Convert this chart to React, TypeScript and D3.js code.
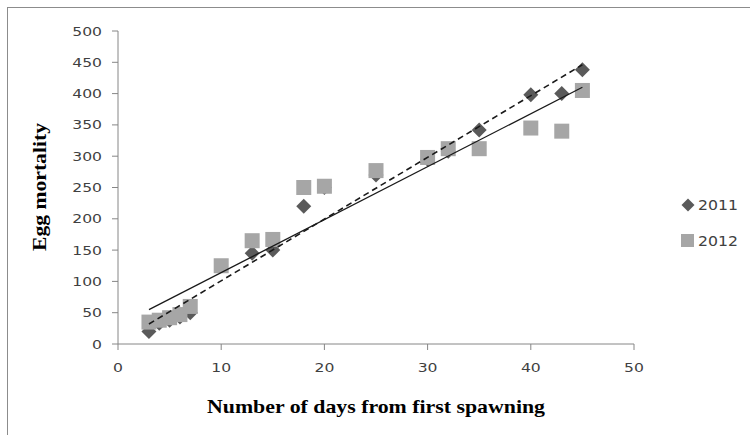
import React from "react";
import * as d3 from "d3";

const days2011 = [3, 4, 5, 6, 7, 13, 15, 18, 20, 25, 30, 32, 35, 40, 43, 45];
const mort2011 = [20, 33, 38, 43, 50, 145, 150, 220, 250, 270, 295, 308, 342, 398, 400, 438];
const days2012 = [3, 4, 5, 6, 7, 10, 13, 15, 18, 20, 25, 30, 32, 35, 40, 43, 45];
const mort2012 = [35, 38, 42, 47, 60, 125, 165, 167, 250, 252, 277, 298, 312, 312, 345, 340, 405];
const xTicks = [0, 10, 20, 30, 40, 50];
const yTicks = [0, 50, 100, 150, 200, 250, 300, 350, 400, 450, 500];
const seriesNames = ["2011", "2012"];

function fit(xs: number[], ys: number[]) {
  const mx = d3.mean(xs)!;
  const my = d3.mean(ys)!;
  let num = 0, den = 0;
  xs.forEach((x, i) => { num += (x - mx) * (ys[i] - my); den += (x - mx) * (x - mx); });
  const b = num / den;
  const a = my - b * mx;
  const x0 = d3.min(xs)!, x1 = d3.max(xs)!;
  return [[x0, a + b * x0], [x1, a + b * x1]] as [number, number][];
}

function SText(props: { x: number; y: number; anchor?: string; size: number; sx?: number; children: React.ReactNode }) {
  const { x, y, anchor = "start", size, sx = 1.2, children } = props;
  return (
    <g transform={`translate(${x},${y}) scale(${sx},1)`}>
      <text x={0} y={0} dy="0.35em" textAnchor={anchor} fontFamily="DejaVu Sans" fontSize={size} fill="#404040">{children}</text>
    </g>
  );
}

export default function App() {
  const x = d3.scaleLinear().domain([0, 50]).range([118, 634]);
  const y = d3.scaleLinear().domain([0, 500]).range([344, 31]);
  const axisCol = "#868686";
  const darkCol = "#5a5a5a";
  const lightCol = "#a6a6a6";
  const line = d3.line<[number, number]>().x(d => x(d[0])).y(d => y(d[1]));
  const t2011 = fit(days2011, mort2011);
  const t2012 = fit(days2012, mort2012);
  const diamond = (cx: number, cy: number, r: number) =>
    `M${cx},${cy - r}L${cx + r},${cy}L${cx},${cy + r}L${cx - r},${cy}Z`;
  const sq = 15;
  return (
    <svg width={750} height={435} style={{ position: "absolute", left: 0, top: 0, background: "#fff" }}>
      <rect x={7.5} y={7.5} width={760} height={450} fill="#fff" stroke="#8c8c8c" strokeWidth={1} />
      {/* axes */}
      <line x1={x(0)} x2={x(0)} y1={y(500)} y2={y(0)} stroke={axisCol} />
      <line x1={x(0)} x2={x(50)} y1={y(0)} y2={y(0)} stroke={axisCol} />
      {yTicks.map(t => (
        <g key={"y" + t}>
          <line x1={x(0) - 6} x2={x(0)} y1={y(t)} y2={y(t)} stroke={axisCol} />
          <SText x={x(0) - 16} y={y(t)} anchor="end" size={13}>{t}</SText>
        </g>
      ))}
      {xTicks.map(t => (
        <g key={"x" + t}>
          <line x1={x(t)} x2={x(t)} y1={y(0)} y2={y(0) + 6} stroke={axisCol} />
          <SText x={x(t)} y={y(0) + 23} anchor="middle" size={13}>{t}</SText>
        </g>
      ))}
      {/* markers */}
      {days2011.map((d, i) => (
        <path key={"d" + i} d={diamond(x(d), y(mort2011[i]), 7.5)} fill={darkCol} />
      ))}
      {days2012.map((d, i) => (
        <rect key={"s" + i} x={x(d) - sq / 2} y={y(mort2012[i]) - sq / 2} width={sq} height={sq} fill={lightCol} />
      ))}
      {/* trend lines */}
      <path d={line(t2012)!} stroke="#1a1a1a" strokeWidth={1.3} fill="none" />
      <path d={line(t2011)!} stroke="#1a1a1a" strokeWidth={1.6} strokeDasharray="6,4" fill="none" />
      {/* axis titles */}
      <text x={376} y={413} textAnchor="middle" fontFamily="Liberation Serif" fontWeight="bold" fontSize={19} fill="#000" textLength={338} lengthAdjust="spacingAndGlyphs">Number of days from first spawning</text>
      <text transform={`translate(46,187) rotate(-90)`} textAnchor="middle" fontFamily="Liberation Serif" fontWeight="bold" fontSize={19} fill="#000" textLength={128} lengthAdjust="spacingAndGlyphs">Egg mortality</text>
      {/* legend */}
      <path d={diamond(688, 205, 6.5)} fill={darkCol} />
      <SText x={698} y={205} size={14} sx={1.12}>{seriesNames[0]}</SText>
      <rect x={681} y={234} width={13} height={13} fill={lightCol} />
      <SText x={698} y={241} size={14} sx={1.12}>{seriesNames[1]}</SText>
    </svg>
  );
}
